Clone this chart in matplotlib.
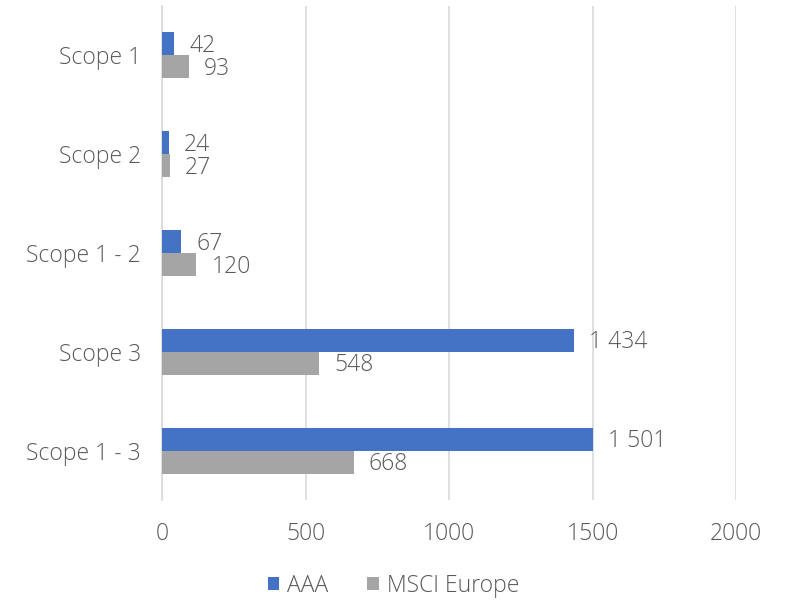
import matplotlib
matplotlib.use("Agg")
import matplotlib.pyplot as plt
import numpy as np

categories = ["Scope 1", "Scope 2", "Scope 1 - 2", "Scope 3", "Scope 1 - 3"]
aaa = [42, 24, 67, 1434, 1501]
msci = [93, 27, 120, 548, 668]
series_names = ["AAA", "MSCI Europe"]
xticks = [0, 500, 1000, 1500, 2000]

plt.rcParams['font.family'] = ['Open Sans', 'DejaVu Sans']
plt.rcParams['font.weight'] = 'light'
txt = '#595959'
fs = 16.5

fig = plt.figure(figsize=(7.87, 6.0), dpi=100)
ax = fig.add_axes([162/787, 1-500/600, (736-162)/787, (500-6)/600])

n = len(categories)
y = np.arange(n)
h = 0.233
ax.barh(y - h/2, aaa, height=h, color='#4472C4', label=series_names[0], zorder=3)
ax.barh(y + h/2, msci, height=h, color='#A5A5A5', label=series_names[1], zorder=3)

def fmt(v):
    return f"{v:,}".replace(",", " ")

for yi, a, m in zip(y, aaa, msci):
    ax.annotate(fmt(a), (a, yi - h/2), xytext=(11, -1.5), textcoords='offset points',
                va='center', ha='left', fontsize=fs, color=txt, fontweight='light')
    ax.annotate(fmt(m), (m, yi + h/2), xytext=(11, -1.5), textcoords='offset points',
                va='center', ha='left', fontsize=fs, color=txt, fontweight='light')

ax.set_xlim(0, 2000)
ax.set_ylim(n - 0.5, -0.5)
ax.set_yticks(y)
ax.set_yticklabels(categories, fontsize=fs, color=txt, fontweight='light')
ax.set_xticks(xticks)
ax.set_xticklabels([str(t) for t in xticks], fontsize=fs, color=txt, fontweight='light')
ax.tick_params(axis='y', length=0, pad=15)
ax.tick_params(axis='x', length=0, pad=16)
ax.grid(axis='x', color='#D9D9D9', linewidth=1.2, zorder=0)
for s in ['top', 'right', 'bottom']:
    ax.spines[s].set_visible(False)
ax.spines['left'].set_color('#D9D9D9')
ax.spines['left'].set_linewidth(1.2)

leg = fig.legend(loc='center', bbox_to_anchor=(0.5, 1-586/600), ncol=2, frameon=False,
                 prop={'size': fs, 'weight': 'light'}, handlelength=0.5, handleheight=0.5,
                 columnspacing=1.7, handletextpad=0.35)
for t in leg.get_texts():
    t.set_color(txt)

fig.savefig("out.png", dpi=100)
